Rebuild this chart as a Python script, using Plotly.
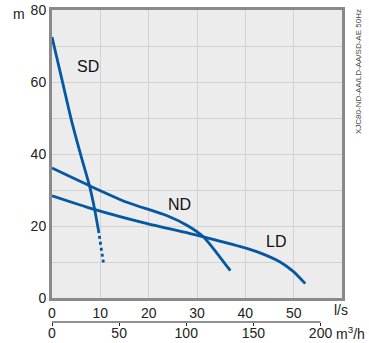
import plotly.graph_objects as go

# pump curves, flow in l/s and head in m
sd_q = [0, 2.0, 4.0, 6.0, 7.75, 8.8, 9.6]
sd_h = [72.5, 61.0, 49.5, 39.5, 31.2, 24.8, 18.9]
sd_dot_q = [9.6, 10.7]
sd_dot_h = [18.9, 9.3]
nd_q = [0, 7.75, 15.5, 23.7, 27.9, 31.3, 34.1, 36.9]
nd_h = [36.1, 31.2, 26.6, 22.9, 20.2, 17.0, 12.5, 7.6]
ld_q = [0, 8.55, 19.9, 28.6, 31.3, 40.3, 43.7, 47.2, 49.9, 52.4]
ld_h = [28.4, 24.7, 20.6, 17.9, 17.0, 13.8, 12.2, 10.0, 7.4, 4.0]

curve_labels = ["SD", "ND", "LD"]
label_q = [7.4, 26.3, 46.4]
label_h = [64.2, 26.0, 15.6]

ls_ticks = [0, 10, 20, 30, 40, 50]
m_ticks = [0, 20, 40, 60, 80]
m3h_ticks = [0, 50, 100, 150, 200]

blue = '#0457a0'
font = 'Liberation Sans, Arial, sans-serif'

fig = go.Figure()
fig.add_trace(go.Scatter(x=sd_q, y=sd_h, mode='lines', line=dict(color=blue, width=2.8, shape='spline', smoothing=0.7)))
fig.add_trace(go.Scatter(x=sd_dot_q, y=sd_dot_h, mode='lines', line=dict(color=blue, width=2.8, dash='dot')))
fig.add_trace(go.Scatter(x=nd_q, y=nd_h, mode='lines', line=dict(color=blue, width=2.8, shape='spline', smoothing=0.7)))
fig.add_trace(go.Scatter(x=ld_q, y=ld_h, mode='lines', line=dict(color=blue, width=2.8, shape='spline', smoothing=0.6)))
# invisible trace so the m3/h axis gets drawn
fig.add_trace(go.Scatter(x=[0, 200], y=[0, 0], xaxis='x2', mode='lines',
                         line=dict(color='rgba(0,0,0,0)'), hoverinfo='skip'))

for t, q, h in zip(curve_labels, label_q, label_h):
    fig.add_annotation(x=q, y=h, text=t, showarrow=False,
                       font=dict(size=16, color='#111', family=font))

# unit labels
fig.add_annotation(x=0, y=80, text='m', showarrow=False, xanchor='center',
                   xshift=-33, yshift=-4, font=dict(size=14, color='#222', family=font))
fig.add_annotation(xref='paper', yref='paper', x=1, y=0.0769, text='l/s', showarrow=False,
                   xanchor='left', yanchor='top', xshift=-10, yshift=-2,
                   font=dict(size=14, color='#222', family=font))
fig.add_annotation(xref='paper', yref='paper', x=1, y=0, text='m<sup>3</sup>/h', showarrow=False,
                   xanchor='left', yanchor='top', xshift=-8, yshift=0,
                   font=dict(size=14, color='#222', family=font))
fig.add_annotation(xref='paper', yref='paper', x=1, y=1, text='XJC80-ND-AA/LD-AA/SD-AE 50Hz',
                   showarrow=False, textangle=-90, xanchor='left', yanchor='top',
                   xshift=10, yshift=3, font=dict(size=8, color='#444', family=font))

# m3/h axis line, only up to 200
fig.add_shape(type='line', xref='x2', yref='paper', x0=0, x1=200, y0=0, y1=0,
              line=dict(color='#222', width=1.2))

fig.update_layout(
    width=369, height=343,
    margin=dict(l=52, r=27, t=10, b=21),
    plot_bgcolor='#ececec', paper_bgcolor='white',
    showlegend=False,
    font=dict(family=font, size=14, color='#222'),
    xaxis=dict(range=[0, 60], anchor='y', tickvals=ls_ticks, automargin=False,
               showgrid=True, gridcolor='#d2d2d2', gridwidth=1,
               minor=dict(tickvals=[60], showgrid=False),
               showline=True, linecolor='#8a8a8a', linewidth=3, mirror=True,
               zeroline=False, ticks=''),
    xaxis2=dict(range=[0, 216], overlaying='x', anchor='free', position=0, side='bottom',
                tickvals=m3h_ticks, ticks='outside', ticklen=3, tickcolor='#222',
                ticklabelstandoff=-5,
                automargin=False, showgrid=False, showline=False, zeroline=False),
    yaxis=dict(range=[0, 80], domain=[0.0769, 1], tickvals=m_ticks, automargin=False,
               showgrid=True, gridcolor='#d2d2d2', gridwidth=1,
               minor=dict(dtick=10, showgrid=True, gridcolor='#d2d2d2'),
               showline=True, linecolor='#8a8a8a', linewidth=3, mirror=True,
               zeroline=False, ticks=''),
)

# the page body has a default 8px margin; drop it so the chart fills the window
fig.write_html('out.html', config={'displayModeBar': False},
               post_script="document.body.style.margin='0';")
